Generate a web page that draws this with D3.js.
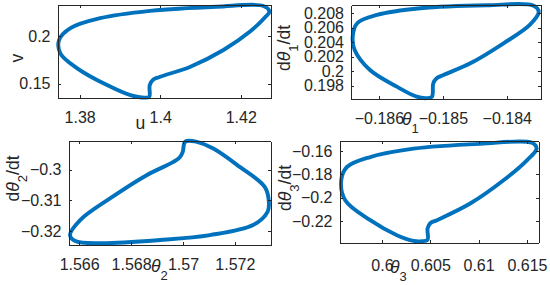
<!DOCTYPE html>
<html>
<head>
<meta charset="utf-8">
<script src="https://cdn.jsdelivr.net/npm/d3@7"></script>
<style>
  body { margin: 0; background: #fff; }
  svg { display: block; font-family: "Liberation Sans", Arial, sans-serif; }
  .axis path, .axis line { stroke: #262626; stroke-width: 1; shape-rendering: crispEdges; }
  .axis text { fill: #262626; font-size: 16px; font-family: "Liberation Sans", Arial, sans-serif; }
  .lbl { fill: #262626; font-size: 17.6px; }
  .orbit { fill: none; stroke: #0072bd; stroke-width: 3.9; stroke-linejoin: round; }
</style>
</head>
<body>
<div id="chart"></div>
<script>
// limit cycles, one loop per panel: [x, y]
var orbitUV = [[1.3965,0.1352],[1.3973,0.1362],[1.3974,0.1484],[1.3983,0.1542],[1.4000,0.1572],
  [1.4075,0.1678],[1.4157,0.1854],[1.4223,0.2048],[1.4262,0.2206],[1.4271,0.2259],[1.4256,0.2318],
  [1.4140,0.2310],[1.3975,0.2266],[1.3851,0.2189],[1.3777,0.2084],[1.3749,0.1960],[1.3752,0.1819],
  [1.3794,0.1661],[1.3868,0.1484],[1.3926,0.1378]];
var orbitT1 = [[-0.18525,0.19630],[-0.18517,0.19650],[-0.18515,0.19834],[-0.18510,0.19901],[-0.18499,0.19949],
  [-0.18457,0.20110],[-0.18405,0.20386],[-0.18364,0.20639],[-0.18350,0.20818],[-0.18358,0.20905],
  [-0.18431,0.20910],[-0.18535,0.20869],[-0.18603,0.20777],[-0.18634,0.20662],[-0.18641,0.20477],
  [-0.18638,0.20294],[-0.18614,0.20018],[-0.18572,0.19788],[-0.18541,0.19650]];
var orbitT2 = [[1.57009,-0.29081],[1.56999,-0.29420],[1.56988,-0.29593],[1.56963,-0.29746],[1.56860,-0.30179],
  [1.56719,-0.30938],[1.56604,-0.31645],[1.56565,-0.32134],[1.56585,-0.32329],[1.56681,-0.32400],
  [1.56912,-0.32296],[1.57104,-0.32134],[1.57270,-0.31808],[1.57326,-0.31375],[1.57331,-0.31049],
  [1.57315,-0.30560],[1.57219,-0.29909],[1.57117,-0.29309],[1.57053,-0.29088]];
var orbitT3 = [[0.60414,-0.23738],[0.60472,-0.23609],[0.60472,-0.22650],[0.60500,-0.22195],[0.60569,-0.21938],
  [0.60913,-0.20507],[0.61258,-0.18511],[0.61500,-0.16797],[0.61600,-0.15794],[0.61552,-0.15297],
  [0.61017,-0.15383],[0.60327,-0.15794],[0.59879,-0.16514],[0.59638,-0.17371],[0.59579,-0.18511],
  [0.59620,-0.20225],[0.59879,-0.21938],[0.60155,-0.23224],[0.60327,-0.23712]];

// axis limits and ticks
var xDomUV = [1.3745, 1.4275], yDomUV = [0.1348, 0.2328];
var xTicksUV = [1.38, 1.4, 1.42], yTicksUV = [0.15, 0.2];
var xDomT1 = [-0.186437, -0.183464], yDomT1 = [0.19618, 0.20914];
var xTicksT1 = [-0.186, -0.185, -0.184], yTicksT1 = [0.198, 0.2, 0.202, 0.204, 0.206, 0.208];
var xDomT2 = [1.56559, 1.573373], yDomT2 = [-0.32459, -0.29062];
var xTicksT2 = [1.566, 1.568, 1.57, 1.572], yTicksT2 = [-0.32, -0.31, -0.3];
var xDomT3 = [0.59561, 0.6162], yDomT3 = [-0.2385, -0.1514];
var xTicksT3 = [0.6, 0.605, 0.61, 0.615], yTicksT3 = [-0.22, -0.2, -0.18, -0.16];

var svg = d3.select('#chart').append('svg').attr('width', 550).attr('height', 285);

var line = d3.line().curve(d3.curveCatmullRomClosed.alpha(0.5));

function panel(o) {
    var x = d3.scaleLinear().domain(o.xDom).range([o.l, o.r]);
    var y = d3.scaleLinear().domain(o.yDom).range([o.b, o.t]);
    var g = svg.append('g');

    // curve first, box on top
    line.x(function(d){ return x(d[0]); }).y(function(d){ return y(d[1]); });
    g.append('path').datum(o.pts).attr('class', 'orbit').attr('d', line);

    var ax = g.append('g').attr('class', 'axis').attr('transform', 'translate(0,' + o.b + ')')
        .call(d3.axisBottom(x).tickValues(o.xTicks).tickFormat(d3.format('')).tickSizeInner(-3).tickSizeOuter(0));
    ax.selectAll('text').attr('y', o.xtY).attr('dy', null);
    g.append('g').attr('class', 'axis').attr('transform', 'translate(0,' + o.t + ')')
        .call(d3.axisTop(x).tickValues(o.xTicks).tickFormat('').tickSizeInner(-3).tickSizeOuter(0));
    g.append('g').attr('class', 'axis').attr('transform', 'translate(' + o.l + ',0)')
        .call(d3.axisLeft(y).tickValues(o.yTicks).tickFormat(d3.format('')).tickSizeInner(-3).tickSizeOuter(0).tickPadding(7));
    g.append('g').attr('class', 'axis').attr('transform', 'translate(' + o.r + ',0)')
        .call(d3.axisRight(y).tickValues(o.yTicks).tickFormat('').tickSizeInner(-3).tickSizeOuter(0));
    g.selectAll('.axis text').attr('fill', '#262626');

    // x label
    var xl = g.append('text').attr('class', 'lbl').attr('x', o.xl[0]).attr('y', o.xl[1]);
    addParts(xl, o.xlab);
    // y label (rotated)
    var yl = g.append('text').attr('class', 'lbl')
        .attr('transform', 'translate(' + o.yl[0] + ',' + o.yl[1] + ') rotate(-90)')
        .attr('text-anchor', 'middle');
    addParts(yl, o.ylab);
}

// parts: [text, kind]  kind: '' normal, 'i' italic, 's' subscript
function addParts(t, parts) {
    var down = false;
    parts.forEach(function(p) {
        var s = t.append('tspan').text(p[0]);
        if (p[1] === 'i') s.attr('font-style', 'italic');
        if (p[1] === 's') { s.attr('font-size', '13px').attr('dy', 8); down = true; }
        else if (down) { s.attr('dy', -8); down = false; }
    });
}

panel({l: 57.5, r: 271, t: 5, b: 98, xDom: xDomUV, yDom: yDomUV, xTicks: xTicksUV, yTicks: yTicksUV,
       pts: orbitUV, xtY: 25, xl: [135.5, 129], yl: [22.5, 58],
       xlab: [['u', '']], ylab: [['v', '']]});
panel({l: 351, r: 541, t: 5, b: 99, xDom: xDomT1, yDom: yDomT1, xTicks: xTicksT1, yTicks: yTicksT1,
       pts: orbitT1, xtY: 24.5, xl: [402, 125], yl: [290, 48],
       xlab: [['\u03b8', 'i'], ['1', 's']], ylab: [['d', ''], ['\u03b8', 'i'], ['1', 's'], ['/dt', '']]});
panel({l: 68.5, r: 270.5, t: 141, b: 245, xDom: xDomT2, yDom: yDomT2, xTicks: xTicksT2, yTicks: yTicksT2,
       pts: orbitT2, xtY: 25, xl: [151, 272], yl: [18.5, 178.5],
       xlab: [['\u03b8', 'i'], ['2', 's']], ylab: [['d', ''], ['\u03b8', 'i'], ['2', 's'], ['/dt', '']]});
panel({l: 339.5, r: 538.5, t: 141, b: 242.5, xDom: xDomT3, yDom: yDomT3, xTicks: xTicksT3, yTicks: yTicksT3,
       pts: orbitT3, xtY: 28, xl: [390, 272.5], yl: [290.5, 188],
       xlab: [['\u03b8', 'i'], ['3', 's']], ylab: [['d', ''], ['\u03b8', 'i'], ['3', 's'], ['/dt', '']]});
</script>
</body>
</html>
